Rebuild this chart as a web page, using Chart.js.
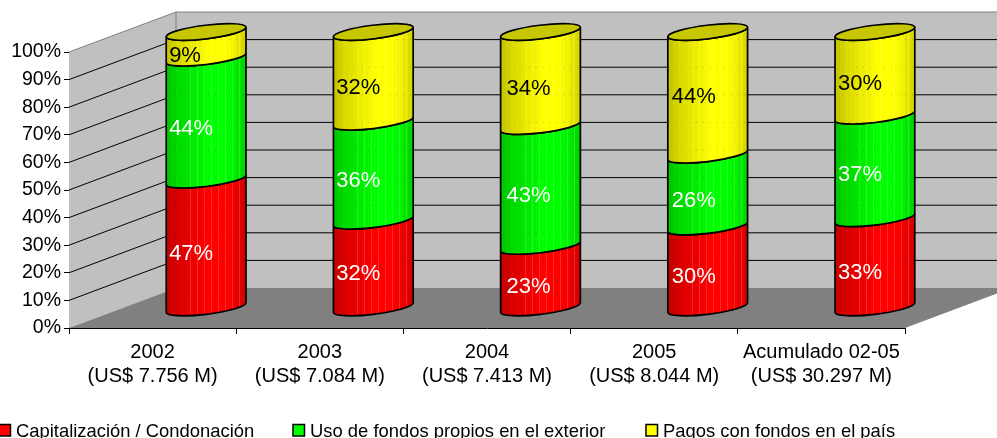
<!DOCTYPE html>
<html>
<head>
<meta charset="utf-8">
<style>
  html, body { margin: 0; padding: 0; background: #fff; overflow: hidden; }
  canvas { display: block; }
</style>
<script src="https://cdn.jsdelivr.net/npm/chart.js@4/dist/chart.umd.min.js"></script>
</head>
<body>
<canvas id="chart" width="997" height="438"></canvas>
<script>
const categories = [
    ['2002', '(US$ 7.756 M)'],
    ['2003', '(US$ 7.084 M)'],
    ['2004', '(US$ 7.413 M)'],
    ['2005', '(US$ 8.044 M)'],
    ['Acumulado 02-05', '(US$ 30.297 M)']
];
const capitalizacion = [46.5, 31.6, 22.5, 29.5, 32.5];
const fondosExterior = [44.2, 35.9, 43.4, 26.05, 37.2];
const fondosPais = [9.3, 32.49, 34.1, 44.45, 30.3];

const FONT = '"Liberation Sans", Arial, sans-serif';
const DEPTH_X = 107;
const DEPTH_Y = -40;

// bandas verticales de cada cilindro, de izquierda a derecha
const facets = [0.78, 0.82, 0.86, 0.88, 0.90, 0.93, 0.95, 0.97, 1, 1, 1, 1, 0.98, 0.95, 0.90, 0.85];
// ajustes finos de las etiquetas por serie y por columna
const labelShiftX = [0, 0, 3, 1, 0];
const labelShiftY = [[0, 0, 0, 0, 0], [0, 0, 0, 0, -2], [1, 1, 0, -6, 0]];

function shade(rgb, k) {
    return `rgb(${rgb.map(c => Math.round(c * k)).join(',')})`;
}

const floorPlugin = {
    id: 'floor3d',
    beforeDatasetsDraw(chart) {
        const { ctx, chartArea: a, scales: { y } } = chart;
        const bx = a.left + DEPTH_X, by = DEPTH_Y;
        ctx.save();
        // pared lateral y pared de fondo
        ctx.fillStyle = '#c0c0c0';
        ctx.fillRect(bx, a.top + by, a.right - a.left, a.bottom - a.top);
        ctx.beginPath();
        ctx.moveTo(a.left, a.top);
        ctx.lineTo(bx, a.top + by);
        ctx.lineTo(bx, a.bottom + by);
        ctx.lineTo(a.left, a.bottom);
        ctx.closePath();
        ctx.fill();
        // piso
        ctx.fillStyle = '#808080';
        ctx.beginPath();
        ctx.moveTo(a.left, a.bottom);
        ctx.lineTo(a.right, a.bottom);
        ctx.lineTo(a.right + DEPTH_X, a.bottom + by);
        ctx.lineTo(bx, a.bottom + by);
        ctx.closePath();
        ctx.fill();
        // lineas de division
        ctx.lineWidth = 1;
        y.ticks.forEach(t => {
            if (t.value === 0) return;
            const py = y.getPixelForValue(t.value);
            ctx.strokeStyle = t.value === 100 ? '#808080' : '#000';
            ctx.beginPath();
            ctx.moveTo(a.left, py);
            ctx.lineTo(bx, py + by);
            ctx.lineTo(a.right + DEPTH_X, py + by);
            ctx.stroke();
        });
        ctx.strokeStyle = '#808080';
        ctx.beginPath();
        ctx.moveTo(bx, a.top + by);
        ctx.lineTo(bx, a.bottom + by);
        ctx.stroke();
        ctx.restore();
    }
};

const cylinderPlugin = {
    id: 'cylinders',
    afterDatasetsDraw(chart) {
        const { ctx, scales: { y } } = chart;
        const phi = -7 * Math.PI / 180;
        const ry = 6.8;
        chart.data.datasets.forEach((ds, di) => {
            const meta = chart.getDatasetMeta(di);
            meta.data.forEach((bar) => {
                const cx = bar.x + DEPTH_X / 2;
                const yTop = bar.y + DEPTH_Y / 2;
                const yBase = bar.base + DEPTH_Y / 2;
                const rx = bar.width / 2 + 0.2;
                const tR = Math.atan2(-ry * Math.sin(phi), rx * Math.cos(phi));
                const tL = tR + Math.PI;
                const left = cx - bar.width / 2, right = cx + bar.width / 2;
                const grad = ctx.createLinearGradient(left, 0, right, 0);
                facets.forEach((k, f) => {
                    grad.addColorStop(f / facets.length, shade(ds.rgb, k));
                    grad.addColorStop((f + 1) / facets.length, shade(ds.rgb, k));
                });
                ctx.save();
                const body = new Path2D();
                body.ellipse(cx, yTop, rx, ry, phi, tL, tR, true);
                body.ellipse(cx, yBase, rx, ry, phi, tR, tL, false);
                body.closePath();
                ctx.fillStyle = grad;
                ctx.fill(body);

                // rayitas claras de las caras y la grilla que se trasluce
                ctx.save();
                ctx.clip(body);
                ctx.lineWidth = 1;
                ctx.strokeStyle = 'rgba(255,255,255,0.16)';
                for (let x = left + 24; x < right - 4; x += 7) {
                    ctx.beginPath();
                    ctx.moveTo(Math.round(x) + 0.5, yTop - 12);
                    ctx.lineTo(Math.round(x) + 0.5, yBase + 12);
                    ctx.stroke();
                }
                ctx.strokeStyle = 'rgba(0,0,0,0.22)';
                ctx.setLineDash([1, 6]);
                y.ticks.forEach(t => {
                    const gy = y.getPixelForValue(t.value) + DEPTH_Y;
                    ctx.beginPath();
                    ctx.moveTo(left, gy);
                    ctx.lineTo(right, gy);
                    ctx.stroke();
                });
                ctx.restore();

                ctx.strokeStyle = '#000';
                ctx.lineWidth = 1.7;
                ctx.stroke(body);
                if (di === chart.data.datasets.length - 1) {
                    ctx.beginPath();
                    ctx.ellipse(cx, yTop, rx, ry, phi, 0, Math.PI * 2);
                    ctx.fillStyle = shade(ds.rgb, 0.78);
                    ctx.fill();
                    ctx.stroke();
                }
                ctx.restore();
            });
        });
        // etiquetas de porcentaje
        ctx.save();
        ctx.font = '22px ' + FONT;
        ctx.textAlign = 'left';
        ctx.textBaseline = 'middle';
        chart.data.datasets.forEach((ds, di) => {
            chart.getDatasetMeta(di).data.forEach((bar, i) => {
                const cx = bar.x + DEPTH_X / 2;
                const mid = (bar.y + bar.base) / 2 + DEPTH_Y / 2;
                ctx.fillStyle = ds.labelColor;
                ctx.fillText(Math.round(ds.data[i]) + '%', cx - bar.width / 2 + 3 + labelShiftX[i], mid + 10 + labelShiftY[di][i]);
            });
        });
        ctx.restore();
    }
};

const legendPlugin = {
    id: 'columnLegend',
    afterDraw(chart) {
        const { ctx } = chart;
        const xs = [-1, 293, 646], top = 424.5, box = 11.5;
        ctx.save();
        ctx.font = '18.4px ' + FONT;
        ctx.textAlign = 'left';
        ctx.textBaseline = 'alphabetic';
        chart.data.datasets.forEach((ds, di) => {
            const x = xs[di];
            ctx.fillStyle = shade(ds.rgb, 1);
            ctx.fillRect(x, top, box, box);
            ctx.strokeStyle = '#000';
            ctx.lineWidth = 1.5;
            ctx.strokeRect(x, top, box, box);
            ctx.fillStyle = '#000';
            ctx.fillText(ds.label, x + 17, 437);
        });
        ctx.restore();
    }
};

new Chart(document.getElementById('chart'), {
    type: 'bar',
    data: {
        labels: categories,
        datasets: [
            { label: 'Capitalización / Condonación', data: capitalizacion, rgb: [255, 0, 0], labelColor: '#fff' },
            { label: 'Uso de fondos propios en el exterior', data: fondosExterior, rgb: [0, 255, 0], labelColor: '#fff' },
            { label: 'Pagos con fondos en el país', data: fondosPais, rgb: [255, 255, 0], labelColor: '#000' }
        ]
    },
    options: {
        responsive: false,
        animation: false,
        devicePixelRatio: 1,
        barPercentage: 0.478,
        categoryPercentage: 1,
        backgroundColor: 'rgba(0,0,0,0)',
        layout: { padding: { top: 52, right: 92, left: 0, bottom: 0 } },
        plugins: {
            legend: { display: false },
            title: { display: false },
            tooltip: { enabled: false }
        },
        scales: {
            x: {
                stacked: true,
                afterFit(scale) { scale.height = 110; },
                border: { color: '#000', width: 1 },
                grid: { offset: true, drawOnChartArea: false, color: '#000', tickLength: 6 },
                ticks: { color: '#000', padding: 6, maxRotation: 0, autoSkip: false, font: { family: FONT, size: 20 } }
            },
            y: {
                stacked: true,
                min: 0,
                max: 100,
                afterFit(scale) { scale.width = 69; },
                border: { color: '#000', width: 1 },
                grid: { drawOnChartArea: false, color: '#000', tickLength: 5 },
                ticks: {
                    stepSize: 10,
                    color: '#000',
                    padding: 3,
                    font: { family: FONT, size: 19.5 },
                    callback: v => v + '%'
                }
            }
        }
    },
    plugins: [floorPlugin, cylinderPlugin, legendPlugin]
});
</script>
</body>
</html>
